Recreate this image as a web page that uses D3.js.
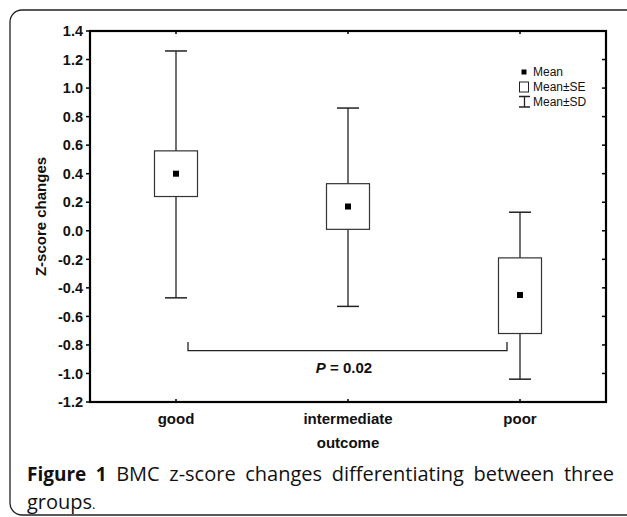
<!DOCTYPE html>
<html>
<head>
<meta charset="utf-8">
<script src="https://d3js.org/d3.v7.min.js"></script>
<style>
  body { margin: 0; background: #fff; }
  svg { display: block; }
  .tick-lbl { font: bold 14.5px "Liberation Sans", Arial, sans-serif; fill: #111; }
  .cat-lbl { font: bold 15px "Liberation Sans", Arial, sans-serif; fill: #111; }
  .legend text { font: 12px "Liberation Sans", Arial, sans-serif; fill: #111; }
  .caption { font: 20px "Open Sans", sans-serif; fill: #111; }
</style>
</head>
<body>
<div id="chart"></div>
<script>
// group values
var groups = ["good", "intermediate", "poor"];
var means  = [0.40, 0.17, -0.45];
var seLow  = [0.24, 0.01, -0.72];
var seHigh = [0.56, 0.33, -0.19];
var sdLow  = [-0.47, -0.53, -1.04];
var sdHigh = [1.26, 0.86, 0.13];
var yTicks = [-1.2, -1.0, -0.8, -0.6, -0.4, -0.2, 0.0, 0.2, 0.4, 0.6, 0.8, 1.0, 1.2, 1.4];
var legendItems = ["Mean", "Mean\u00b1SE", "Mean\u00b1SD"];
var bracket = {from: "good", to: "poor", y: -0.84, tip: -0.78, label: "0.02"};

var W = 627, H = 517;
var margin = {top: 31, right: 21, bottom: 115, left: 90},
    width = W - margin.left - margin.right,
    height = H - margin.top - margin.bottom;

var svg = d3.select("#chart").append("svg")
    .attr("width", W)
    .attr("height", H);

// outer rounded frame, right/bottom edges run off the page
svg.append("rect")
    .attr("x", 10).attr("y", 10)
    .attr("width", 630).attr("height", 505)
    .attr("rx", 12)
    .attr("fill", "none").attr("stroke", "#222").attr("stroke-width", 1.3);

var x = d3.scaleBand().domain(groups).range([0, width]);
var y = d3.scaleLinear().domain([-1.2, 1.4]).range([height, 0]);
var cx = function(g) { return x(g) + x.bandwidth() / 2; };

var g = svg.append("g")
    .attr("transform", "translate(" + margin.left + "," + margin.top + ")");

// tick marks on all four sides
g.selectAll(".lt").data(yTicks).enter().append("line")
    .attr("x1", -4).attr("x2", 0)
    .attr("y1", function(d) { return y(d); }).attr("y2", function(d) { return y(d); })
    .attr("stroke", "#000").attr("stroke-width", 1.5);
g.selectAll(".rt").data(yTicks).enter().append("line")
    .attr("x1", width - 4).attr("x2", width)
    .attr("y1", function(d) { return y(d); }).attr("y2", function(d) { return y(d); })
    .attr("stroke", "#000").attr("stroke-width", 1.5);
g.selectAll(".tt").data(groups).enter().append("line")
    .attr("x1", cx).attr("x2", cx)
    .attr("y1", 0).attr("y2", 3)
    .attr("stroke", "#000").attr("stroke-width", 1.5);
g.selectAll(".bt").data(groups).enter().append("line")
    .attr("x1", cx).attr("x2", cx)
    .attr("y1", height - 3).attr("y2", height)
    .attr("stroke", "#000").attr("stroke-width", 1.5);

g.selectAll(".ylbl").data(yTicks).enter().append("text")
    .attr("class", "tick-lbl")
    .attr("x", -7)
    .attr("y", function(d) { return y(d); })
    .attr("dy", "0.36em")
    .attr("text-anchor", "end")
    .text(function(d) { return d3.format(".1f")(d).replace("\u2212", "-"); });

g.selectAll(".xlbl").data(groups).enter().append("text")
    .attr("class", "cat-lbl")
    .attr("x", cx)
    .attr("y", height + 22)
    .attr("text-anchor", "middle")
    .text(function(d) { return d; });

g.append("text").attr("class", "cat-lbl")
    .attr("x", width / 2).attr("y", height + 46)
    .attr("text-anchor", "middle")
    .text("outcome");

g.append("text").attr("class", "cat-lbl")
    .attr("transform", "translate(-44," + (height / 2) + ") rotate(-90)")
    .attr("text-anchor", "middle")
    .text("Z-score changes");

// whiskers (SD)
var boxW = 43, capW = 22, dot = 6;
var grp = g.selectAll(".grp").data(groups).enter().append("g");
grp.append("line")
    .attr("x1", cx).attr("x2", cx)
    .attr("y1", function(d, i) { return y(sdHigh[i]); })
    .attr("y2", function(d, i) { return y(sdLow[i]); })
    .attr("stroke", "#222").attr("stroke-width", 1.3);
[sdHigh, sdLow].forEach(function(arr) {
  grp.append("line")
      .attr("x1", function(d) { return cx(d) - capW / 2; })
      .attr("x2", function(d) { return cx(d) + capW / 2; })
      .attr("y1", function(d, i) { return y(arr[i]); })
      .attr("y2", function(d, i) { return y(arr[i]); })
      .attr("stroke", "#222").attr("stroke-width", 1.5);
});
// SE boxes
grp.append("rect")
    .attr("x", function(d) { return cx(d) - boxW / 2; })
    .attr("y", function(d, i) { return y(seHigh[i]); })
    .attr("width", boxW)
    .attr("height", function(d, i) { return y(seLow[i]) - y(seHigh[i]); })
    .attr("fill", "#fff").attr("stroke", "#333").attr("stroke-width", 1.2);
// means
grp.append("rect")
    .attr("x", function(d) { return cx(d) - dot / 2; })
    .attr("y", function(d, i) { return y(means[i]) - dot / 2; })
    .attr("width", dot).attr("height", dot)
    .attr("fill", "#000");

// significance bracket
var bx1 = cx(bracket.from) + 12, bx2 = cx(bracket.to) - 13;
g.append("path")
    .attr("d", "M" + bx1 + "," + y(bracket.tip) + "V" + y(bracket.y) +
               "H" + bx2 + "V" + y(bracket.tip))
    .attr("fill", "none").attr("stroke", "#222").attr("stroke-width", 1.3);
var pt = g.append("text").attr("class", "cat-lbl")
    .attr("x", width / 2 - 4).attr("y", y(bracket.y) + 22)
    .attr("text-anchor", "middle");
pt.append("tspan").attr("font-style", "italic").text("P");
pt.append("tspan").text(" = " + bracket.label);

// plot frame
g.append("rect")
    .attr("width", width).attr("height", height)
    .attr("fill", "none").attr("stroke", "#000").attr("stroke-width", 2.2);

// legend
var lg = svg.append("g").attr("class", "legend").attr("transform", "translate(524,0)");
lg.append("rect").attr("x", -2.5).attr("y", 69.5).attr("width", 5).attr("height", 5).attr("fill", "#000");
lg.append("rect").attr("x", -4.5).attr("y", 82).attr("width", 9).attr("height", 10)
    .attr("fill", "#fff").attr("stroke", "#222").attr("stroke-width", 1);
lg.append("path").attr("d", "M-5,96.5H6M0.5,96.5V107M-5,107H6")
    .attr("fill", "none").attr("stroke", "#222").attr("stroke-width", 1.3);
lg.selectAll("text").data(legendItems).enter().append("text")
    .attr("x", 9)
    .attr("y", function(d, i) { return 76 + i * 15; })
    .text(function(d) { return d; });

// caption, first line justified
var cap1 = svg.append("text").attr("class", "caption")
    .attr("x", 27).attr("y", 481);
cap1.append("tspan").attr("font-weight", "bold").attr("font-size", "19px").text("Figure 1");
cap1.append("tspan").text(" BMC z-score changes differentiating between three");
var natural = cap1.node().getComputedTextLength();
cap1.attr("word-spacing", Math.max(0, (614 - 27 - natural) / 7));
var cap2 = svg.append("text").attr("class", "caption")
    .attr("x", 27).attr("y", 509);
cap2.append("tspan").text("groups");
cap2.append("tspan").attr("font-size", "13px").text(".");
</script>
</body>
</html>
